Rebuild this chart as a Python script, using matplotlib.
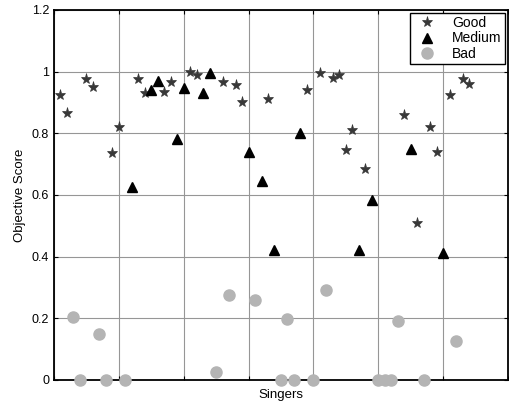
import numpy as np
from matplotlib import pyplot as plt

plt.rcParams['font.family'] = ['Liberation Sans', 'DejaVu Sans']

# singer index -> score, per quality class
good_x = [1, 2, 5, 6, 9, 10, 13, 14, 17, 18, 21, 22, 26, 28, 29, 33, 39, 41,
          43, 44, 45, 46, 48, 54, 56, 58, 59, 61, 63, 64]
good_y = [0.925, 0.865, 0.975, 0.95, 0.735, 0.82, 0.975, 0.93, 0.935, 0.965,
          1.0, 0.99, 0.965, 0.955, 0.90, 0.91, 0.94, 0.995, 0.98, 0.99,
          0.745, 0.81, 0.685, 0.86, 0.51, 0.82, 0.74, 0.925, 0.975, 0.96]
medium_x = [12, 15, 16, 19, 20, 23, 24, 30, 32, 34, 38, 47, 49, 55, 60]
medium_y = [0.625, 0.94, 0.97, 0.78, 0.945, 0.93, 0.995, 0.74, 0.645, 0.42,
            0.80, 0.42, 0.585, 0.75, 0.41]
bad_x = [3, 4, 7, 8, 11, 25, 27, 31, 35, 36, 37, 40, 42, 50, 51, 52, 53, 57,
         62]
bad_y = [0.205, 0.0, 0.15, 0.0, 0.0, 0.025, 0.275, 0.26, 0.0, 0.197, 0.0,
         0.0, 0.293, 0.0, 0.0, 0.0, 0.19, 0.0, 0.125]

fig = plt.figure(figsize=(5.09, 4.09), dpi=100)
ax = fig.add_axes([0.106, 0.071, 0.892, 0.905])

ax.plot(good_x, good_y, '*', color='#383838', markersize=8,
        markeredgewidth=0.5, label='Good', clip_on=False, zorder=3)
ax.plot(medium_x, medium_y, '^', color='black', markersize=7.5,
        label='Medium', clip_on=False, zorder=3)
ax.plot(bad_x, bad_y, 'o', color='#b4b4b4', markersize=8,
        label='Bad', clip_on=False, zorder=3)

ax.set_xlim(0, 70)
ax.set_ylim(0, 1.2)
ax.set_xticks(np.arange(0, 71, 10))
ax.set_xticklabels([])
ax.set_yticks(np.arange(0, 1.21, 0.2))
ax.set_yticklabels(['0', '0.2', '0.4', '0.6', '0.8', '1', '1.2'])
ax.tick_params(direction='in', top=True, right=True, labelsize=9,
               length=3, width=0.8)
ax.grid(True, color='#969696', linewidth=0.8)
ax.set_axisbelow(True)
for s in ax.spines.values():
    s.set_linewidth(1.3)

ax.set_xlabel('Singers', fontsize=9.5, labelpad=3)
ax.set_ylabel('Objective Score', fontsize=9.5, labelpad=4)

leg = ax.legend(loc='upper right', fontsize=10, fancybox=False,
                framealpha=1, edgecolor='black', borderaxespad=0.2,
                handletextpad=0.8, labelspacing=0.1, borderpad=0.25)
leg.get_frame().set_linewidth(1.0)

fig.savefig('out.png', dpi=100)
